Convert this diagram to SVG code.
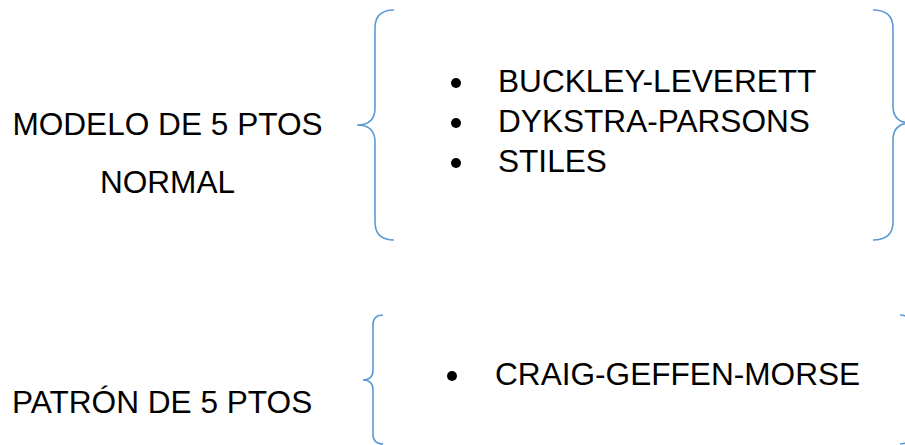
<svg xmlns="http://www.w3.org/2000/svg" width="905" height="445" viewBox="0 0 905 445">
<style>
.t{font-family:"Liberation Sans",Arial,sans-serif;font-size:31.6px;fill:#000}
.b{fill:none;stroke:#5B9BD5;stroke-width:1.6}
.d{fill:#000}
</style>
<rect width="905" height="445" fill="#fff"/>
<g id="label-modelo">
<text class="t" x="167.5" y="135" text-anchor="middle">MODELO DE 5 PTOS</text>
<text class="t" x="167.5" y="193" text-anchor="middle">NORMAL</text>
</g>
<g id="label-patron">
<text class="t" x="12" y="413">PATRÓN DE 5 PTOS</text>
</g>
<g id="list-top">
<circle class="d" cx="456" cy="83" r="5"/>
<text class="t" x="498" y="92">BUCKLEY-LEVERETT</text>
<circle class="d" cx="456" cy="123" r="5"/>
<text class="t" x="498" y="132">DYKSTRA-PARSONS</text>
<circle class="d" cx="456" cy="163" r="5"/>
<text class="t" x="498" y="172">STILES</text>
</g>
<g id="list-bottom">
<circle class="d" cx="452" cy="376" r="5"/>
<text class="t" x="495" y="385">CRAIG-GEFFEN-MORSE</text>
</g>
<g id="braces">
<path class="b" d="M394,10 Q375,10 375,28 L375,108 Q375,125 357,125 Q375,125 375,142 L375,222 Q375,240 394,240"/>
<path class="b" d="M873,10 Q893,10 893,28 L893,106 Q893,123 911,123 Q893,123 893,140 L893,222 Q893,240 873,240"/>
<path class="b" d="M383,315 Q373,315 373,325 L373,370 Q373,380 363,380 Q373,380 373,390 L373,434 Q373,444 383,444"/>
<path class="b" d="M900,315 Q910,315 910,325 L910,370 Q910,380 920,380 Q910,380 910,390 L910,434 Q910,444 900,444"/>
</g>
</svg>
